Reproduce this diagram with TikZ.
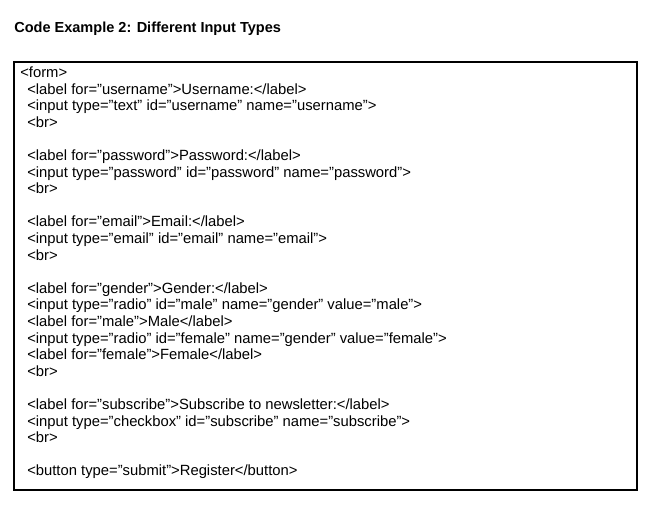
\documentclass[tikz,border=0pt]{standalone}
\usepackage{fontspec}
\setmainfont{Liberation Sans}[Ligatures=ResetAll]
\newcommand\q{\char34\relax}
\begin{document}
\begin{tikzpicture}[x=0.75pt,y=-0.75pt,
  codeline/.style={anchor=base west,inner sep=0pt,font=\fontsize{11.1pt}{13pt}\selectfont}]
\useasboundingbox (0,0) rectangle (650,509);
\node[anchor=base west,inner sep=0pt,font=\bfseries\fontsize{10.9pt}{13pt}\selectfont] (title) at (14,33) {Code Example 2: Different Input Types};
\draw[line width=0.8pt] (14,62) rectangle (637,490);
\def\ls{16.6}
\node[codeline] (l0) at (20,77.5) {<form>};
\foreach \n/\t in {1/{<label for=\q username\q>Username:</label>},
  2/{<input type=\q text\q{} id=\q username\q{} name=\q username\q>},
  3/{<br>},
  5/{<label for=\q password\q>Password:</label>},
  6/{<input type=\q password\q{} id=\q password\q{} name=\q password\q>},
  7/{<br>},
  9/{<label for=\q email\q>Email:</label>},
  10/{<input type=\q email\q{} id=\q email\q{} name=\q email\q>},
  11/{<br>},
  13/{<label for=\q gender\q>Gender:</label>},
  14/{<input type=\q radio\q{} id=\q male\q{} name=\q gender\q{} value=\q male\q>},
  15/{<label for=\q male\q>Male</label>},
  16/{<input type=\q radio\q{} id=\q female\q{} name=\q gender\q{} value=\q female\q>},
  17/{<label for=\q female\q>Female</label>},
  18/{<br>},
  20/{<label for=\q subscribe\q>Subscribe to newsletter:</label>},
  21/{<input type=\q checkbox\q{} id=\q subscribe\q{} name=\q subscribe\q>},
  22/{<br>},
  24/{<button type=\q submit\q>Register</button>}}
  \node[codeline] (l\n) at (27,77.5+\n*\ls) {\t};
\end{tikzpicture}
\end{document}
